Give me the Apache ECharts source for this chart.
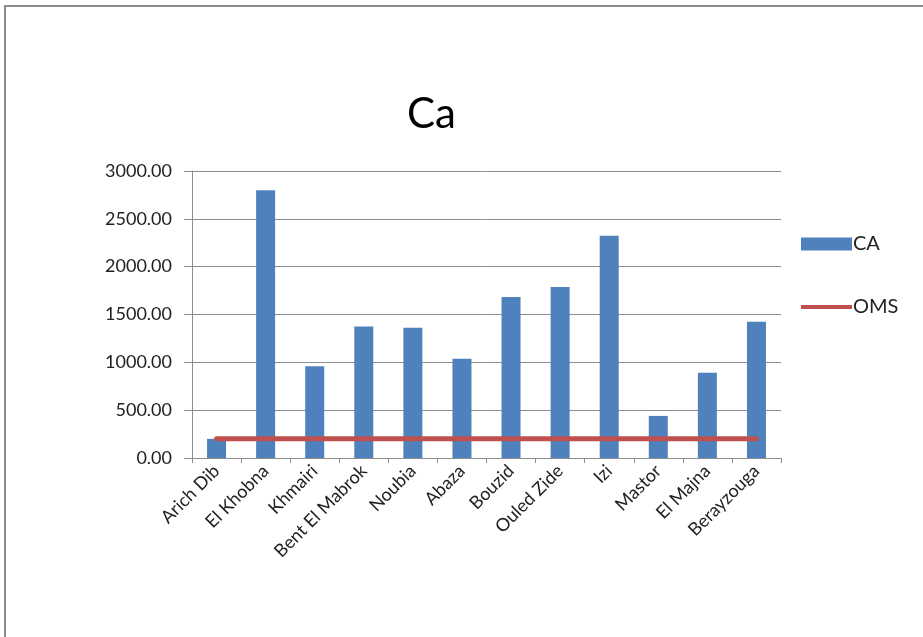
<!DOCTYPE html>
<html>
<head>
<meta charset="utf-8">
<script src="https://cdn.jsdelivr.net/npm/echarts@6/dist/echarts.min.js"></script>
<style>
  html, body { margin: 0; padding: 0; background: #fff; }
  #chart { width: 923px; height: 637px; }
  #frame { position: absolute; left: 4px; top: 5px; width: 940px; height: 660px;
           border-left: 2px solid #8c8c8c; border-top: 2px solid #8c8c8c; pointer-events: none; }
</style>
</head>
<body>
<div id="chart"></div>
<div id="frame"></div>
<script>
// sites and calcium values
var sites = ['Arich Dib', 'El Khobna', 'Khmairi', 'Bent El Mabrok', 'Noubia', 'Abaza',
             'Bouzid', 'Ouled Zide', 'Izi', 'Mastor', 'El Majna', 'Berayzouga'];
var caValues = [200, 2800, 960, 1375, 1362, 1038, 1682, 1787, 2324, 440, 892, 1425];
// OMS limit
var omsValues = [200, 200, 200, 200, 200, 200, 200, 200, 200, 200, 200, 200];
var yTicks = { min: 0, max: 3000, interval: 500 };

var font = 'Lato, "Open Sans", sans-serif';
var myChart = echarts.init(document.getElementById('chart'));

var option = {
    animation: false,
    title: {
        text: 'Ca',
        left: 402,
        top: 88,
        textStyle: { fontFamily: font, fontSize: 42, fontWeight: 'normal', color: '#000' }
    },
    legend: {
        orient: 'vertical',
        left: 796,
        top: 229,
        itemWidth: 51,
        itemHeight: 13,
        itemGap: 43,
        textStyle: { fontFamily: font, fontSize: 20, color: '#222', padding: [0, 0, 0, -4] },
        data: [
            { name: 'CA', icon: 'rect' },
            { name: 'OMS', icon: 'path://M0,0 L51,0 L51,4 L0,4 Z', itemStyle: { color: '#C0504D' } }
        ]
    },
    grid: {
        left: 192,
        top: 171,
        right: 142,
        bottom: 179
    },
    xAxis: {
        type: 'category',
        data: sites,
        axisLine: { lineStyle: { color: '#8c8c8c', width: 1 } },
        axisTick: { show: true, length: 5, lineStyle: { color: '#8c8c8c' } },
        axisLabel: {
            rotate: 45,
            interval: 0,
            margin: 10,
            fontFamily: font,
            fontSize: 18,
            color: '#222'
        }
    },
    yAxis: {
        type: 'value',
        min: yTicks.min,
        max: yTicks.max,
        interval: yTicks.interval,
        axisLine: { show: true, lineStyle: { color: '#8c8c8c', width: 1 } },
        axisTick: { show: true, length: 8, lineStyle: { color: '#8c8c8c' } },
        splitLine: { lineStyle: { color: '#8c8c8c', width: 1 } },
        axisLabel: {
            margin: 20,
            fontFamily: font,
            fontSize: 18,
            color: '#222',
            formatter: function (v) { return v.toFixed(2); }
        }
    },
    series: [
        {
            name: 'CA',
            type: 'bar',
            data: caValues,
            barWidth: 19,
            itemStyle: { color: '#4F81BD' }
        },
        {
            name: 'OMS',
            type: 'line',
            data: omsValues,
            showSymbol: false,
            symbol: 'none',
            itemStyle: { color: '#C0504D' },
            lineStyle: { color: '#C0504D', width: 5, cap: 'round' }
        }
    ]
};
myChart.setOption(option);
</script>
</body>
</html>
